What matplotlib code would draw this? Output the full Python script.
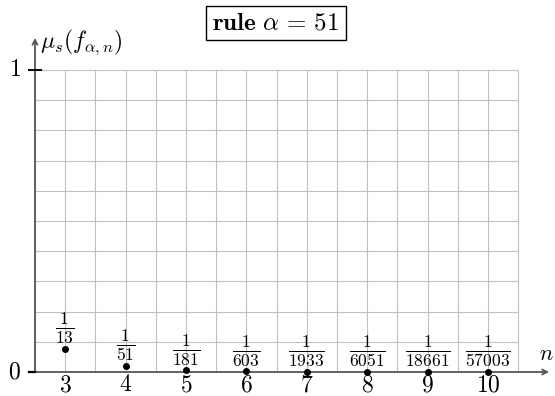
import matplotlib
matplotlib.use("Agg")
import matplotlib.pyplot as plt

plt.rcParams["mathtext.fontset"] = "cm"
plt.rcParams["font.family"] = "serif"
plt.rcParams["font.serif"] = ["cmr10", "DejaVu Serif"]
plt.rcParams["axes.formatter.use_mathtext"] = True

# data
n_values = [3, 4, 5, 6, 7, 8, 9, 10]
denominators = [13, 51, 181, 603, 1933, 6051, 18661, 57003]
mu_values = [1.0 / d for d in denominators]
y_ticks = [0, 1]
rule_number = 51

axis_color = "#555555"
grid_color = "#c0c0c0"

fig = plt.figure(figsize=(5.55, 3.96), dpi=100)
W, H = 555, 396
x0, x1 = 35, 549
y0, y1 = 372, 38
ax = fig.add_axes([x0 / W, 1 - y0 / H, (x1 - x0) / W, (y0 - y1) / H])
px_per_x = 60.4
px_per_y = 302.0
ax.set_xlim(2.5, 2.5 + (x1 - x0) / px_per_x)
ax.set_ylim(0, (y0 - y1) / px_per_y)
xmax = ax.get_xlim()[1]
ymax = ax.get_ylim()[1]
for s in ax.spines.values():
    s.set_visible(False)
ax.set_xticks([])
ax.set_yticks([])

# grid: half-unit columns, tenth rows
xs = [2.5 + 0.5 * i for i in range(17)]
ys = [0.1 * i for i in range(11)]
ax.vlines(xs, 0, 1, colors=grid_color, lw=0.8, zorder=1)
ax.hlines(ys, 2.5, 10.5, colors=grid_color, lw=0.8, zorder=1)

# axes with arrows
arrow = dict(arrowstyle="->,head_length=0.35,head_width=0.18", color=axis_color,
             lw=1.3, shrinkA=0, shrinkB=0)
ax.annotate("", xy=(xmax, 0), xytext=(2.5, 0), arrowprops=arrow, zorder=3,
            annotation_clip=False)
ax.annotate("", xy=(2.5, ymax), xytext=(2.5, 0), arrowprops=arrow, zorder=3,
            annotation_clip=False)

# y ticks
ax.plot([2.5 - 6 / px_per_x, 2.5 + 6 / px_per_x], [1, 1], color="black", lw=1.4,
        clip_on=False, zorder=4)
ax.plot([2.5 - 6 / px_per_x, 2.5], [0, 0], color="black", lw=1.6, clip_on=False,
        zorder=4)
for yt in y_ticks:
    ax.text(2.5 - 14 / px_per_x, yt, f"${yt}$", ha="right", va="center",
            fontsize=17)

# x tick labels
for n in n_values:
    ax.text(n, -13 / px_per_y, f"${n}$", ha="center", va="center", fontsize=17)

# points and fraction labels
ax.scatter(n_values, mu_values, s=16, color="black", zorder=5, clip_on=False)
for n, d, m in zip(n_values, denominators, mu_values):
    ax.annotate(rf"$\frac{{1}}{{{d}}}$", xy=(n, m), xytext=(0, 14.5),
                textcoords="offset points", ha="center", va="center",
                fontsize=18, zorder=6)

# axis labels
ax.text(2.5 + 5 / px_per_x, ymax - 4 / px_per_y, r"$\mu_s(f_{\alpha,n})$",
        ha="left", va="center", fontsize=17)
ax.text(xmax - 3 / px_per_x, 8 / px_per_y, r"$n$", ha="center", va="bottom",
        fontsize=16)

# title box
fig.text(276 / W, 1 - 23 / H, rf"$\mathbf{{rule}}\ \alpha\,=\,{rule_number}$",
         ha="center", va="center", fontsize=18,
         bbox=dict(boxstyle="square,pad=0.25", fc="white", ec="black", lw=1.0))

fig.savefig("out.png", dpi=100)
